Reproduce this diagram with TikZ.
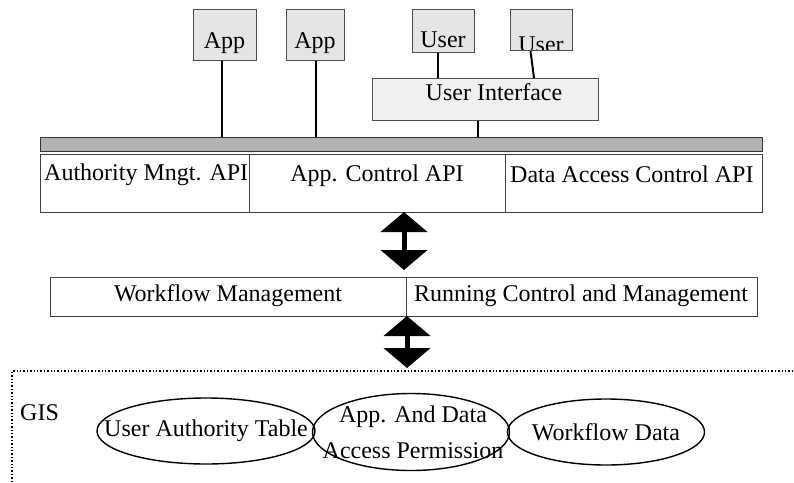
\documentclass[tikz,border=0pt]{standalone}
\usepackage{fontspec}
\setmainfont{Liberation Serif}
\usetikzlibrary{shapes.geometric,arrows.meta,calc}
\begin{document}
\begin{tikzpicture}[x=1pt,y=-1pt,
  every node/.style={font=\fontsize{24}{26}\selectfont, inner sep=0pt},
  topbox/.style={draw=black!70, fill=black!10, line width=1pt, rectangle, anchor=north west},
  uibox/.style={draw=black!70, fill=black!6, line width=1pt, rectangle, anchor=north west},
  barbox/.style={draw=black!80, fill=black!30, line width=1pt, rectangle, anchor=north west},
  apibox/.style={draw=black!75, fill=white, line width=1pt, rectangle, anchor=north west},
  link/.style={draw=black, line width=2pt},
  bigarrow/.style={line width=5pt, {Triangle[width=46pt,length=20pt]}-{Triangle[width=46pt,length=20pt]}},
  store/.style={draw=black, line width=1.4pt, ellipse, inner sep=0pt},
  gisline/.style={dotted, line width=1.4pt}
]
\useasboundingbox[fill=white] (0,0) rectangle (794,482);

% top boxes
\node[topbox, minimum width=63pt, minimum height=51pt] (app1) at (193,9) {};
\node[anchor=base] (app1t) at (224.5,48) {App};
\node[topbox, minimum width=58pt, minimum height=51pt] (app2) at (286,9) {};
\node[anchor=base] (app2t) at (315,48) {App};
\node[topbox, minimum width=62pt, minimum height=43pt] (user1) at (412,9) {};
\node[anchor=base] (user1t) at (443,47) {User};
\node[topbox, minimum width=62pt, minimum height=41pt] (user2) at (510,9) {};
\begin{scope}
  \clip (510,9) rectangle (572,49.5);
  \node[anchor=base] (user2t) at (541,52) {User};
\end{scope}
\node[uibox, minimum width=226pt, minimum height=42pt] (ui) at (372,78) {};
\node[anchor=base] (uit) at (494,100) {User Interface};

% bar
\node[barbox, minimum width=722pt, minimum height=14pt] (bar) at (40,137) {};

% API row
\node[apibox, minimum width=209pt, minimum height=58pt] (auth) at (40,154) {};
\node[apibox, minimum width=256pt, minimum height=58pt] (appc) at (249,154) {};
\node[apibox, minimum width=257pt, minimum height=58pt] (dac) at (505,154) {};
\node[anchor=base west] (autht) at (44,180) {Authority Mngt. API};
\node[anchor=base] (appct) at (377,181) {App. Control API};
\node[anchor=base west] (dact) at (510,182) {Data Access Control API};

% connectors
\draw[link] (app1.south -| 222,0) -- (bar.north -| 222,0);
\draw[link] (app2.south) -- (app2.south |- bar.north);
\draw[link] (ui.south -| 478,0) -- (bar.north -| 478,0);
\draw[link] (user1.south -| 438,0) -- (ui.north -| 438,0);
\draw[link] ($(user2.south)+(-11,0)$) -- ($(ui.north west)+(162,0)$);

% workflow row
\node[apibox, minimum width=356pt, minimum height=39pt] (wf) at (50,277) {};
\node[apibox, minimum width=351pt, minimum height=39pt] (rc) at (406,277) {};
\node[anchor=base] (wft) at (228,301) {Workflow Management};
\node[anchor=base] (rct) at (581,301) {Running Control and Management};

% arrows
\coordinate (a1t) at (404,212);
\coordinate (a1b) at (404,270);
\draw[bigarrow] (a1t) -- (a1b);
\coordinate (a2t) at (407,316);
\coordinate (a2b) at (407,368);
\draw[bigarrow] (a2t) -- (a2b);

% GIS region
\coordinate (gbl) at (12,482);
\coordinate (gtl) at (12,371);
\coordinate (gtr) at (794,371);
\draw[gisline] (gbl) -- (gtl) -- (gtr);
\node[anchor=base west] (gis) at (20,420) {GIS};

\node[store, minimum width=218pt, minimum height=66pt] (e1) at (206,431) {};
\node (e1t) at (206,431) {User Authority Table};
\node[store, minimum width=197pt, minimum height=77pt] (e2) at (411,432) {};
\node[align=center, font=\fontsize{24}{36}\selectfont] (e2t) at (413,432) {App. And Data\\Access Permission};
\node[store, minimum width=197pt, minimum height=66pt] (e3) at (606,432) {};
\node (e3t) at (606,432) {Workflow Data};
\end{tikzpicture}
\end{document}
